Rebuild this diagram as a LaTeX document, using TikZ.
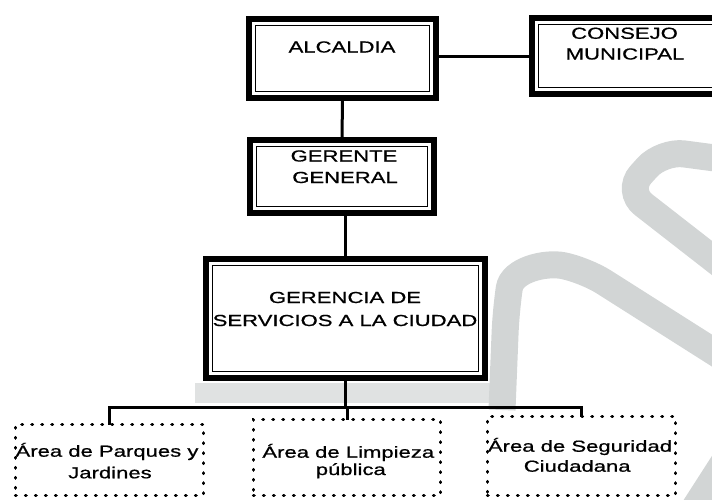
\documentclass[tikz,border=0pt]{standalone}
\usepackage{fontspec}
\setmainfont{Liberation Sans}
\newfontfamily\widefont{Liberation Sans}[FakeStretch=1.38,FakeBold=0.8]
\definecolor{wm}{RGB}{210,213,213}
\definecolor{wmlight}{RGB}{224,226,226}
\begin{document}
\begin{tikzpicture}[x=1pt,y=-1pt,
  frame/.style={rectangle, draw, line width=6.5pt, fill=white, inner sep=0pt, outer sep=0pt},
  dotbox/.style={rectangle, draw, line width=3.4pt, dash pattern=on 0.6pt off 9.4pt, line cap=round, fill=white, inner sep=0pt, outer sep=0pt},
  lbl/.style={anchor=base, inner sep=0pt, font=\widefont\fontsize{16}{19}\selectfont},
  conn/.style={line width=3pt},
  wmark/.style={draw=wm, line width=27pt, rounded corners=22pt}]
\useasboundingbox (0,0) rectangle (712,499);
\clip (0,0) rectangle (712,499);

% watermark
\fill[wmlight] (195,383) rectangle (495,403);
\draw[wmark] (730,160) -- (662,151) -- (626,191) -- (730,272);
\draw[wmark] (502,410) -- (506,310) .. controls (512,270) and (545,262) .. (585,270) -- (730,362);
\draw[wmark] (690,515) -- (735,445);

% boxes
\node[frame, minimum width=187pt, minimum height=79pt] (alc) at (342.5,58.5) {};
\node[frame, minimum width=210pt, minimum height=76pt] (con) at (637,56) {};
\node[frame, minimum width=184pt, minimum height=73pt] (ger) at (342,176.5) {};
\node[frame, minimum width=279pt, minimum height=119pt] (gsc) at (345.5,318.5) {};
\foreach \n in {alc,con,ger,gsc}
  \draw[line width=1.2pt] ([xshift=6.3pt,yshift=-6.3pt]\n.north west) rectangle ([xshift=-6.3pt,yshift=6.3pt]\n.south east);

\node[dotbox, minimum width=188pt, minimum height=71pt] (b1) at (109.5,460) {};
\node[dotbox, minimum width=187pt, minimum height=76pt] (b2) at (347,457.5) {};
\node[dotbox, minimum width=188pt, minimum height=79pt] (b3) at (581.5,456) {};

% texts
\node[lbl] (alcT) at (342,52.5) {ALCALDIA};
\node[lbl] (conT1) at (624.5,38.8) {CONSEJO};
\node[lbl] (conT2) at (625,59.5) {MUNICIPAL};
\node[lbl] (gerT1) at (344,161.5) {GERENTE};
\node[lbl] (gerT2) at (345,183) {GENERAL};
\node[lbl] (gscT1) at (345,303) {GERENCIA DE};
\node[lbl] (gscT2) at (345,326) {SERVICIOS A LA CIUDAD};
\node[lbl] (b1T1) at (107,456.7) {Área de Parques y};
\node[lbl] (b1T2) at (110,478.3) {Jardines};
\node[lbl] (b2T1) at (348.3,457.7) {Área de Limpieza};
\node[lbl] (b2T2) at (350.8,475) {pública};
\node[lbl] (b3T1) at (580,451.7) {Área de Seguridad};
\node[lbl] (b3T2) at (577.2,471.7) {Ciudadana};

% connectors
\coordinate (bus) at (346,407);
\draw[conn] (alc.east |- con.west) -- (con.west);
\draw[conn] (alc.south) -- (ger.north);
\draw[conn] (gsc.north |- ger.south) -- (gsc.north);
\draw[conn] (gsc.south) -- (gsc.south |- bus);
\draw[conn] (b1.north) -- (b1.north |- bus) -- (b3.north |- bus) -- (b3.north);
\draw[conn] (b2.north) -- (b2.north |- bus);
\end{tikzpicture}
\end{document}
